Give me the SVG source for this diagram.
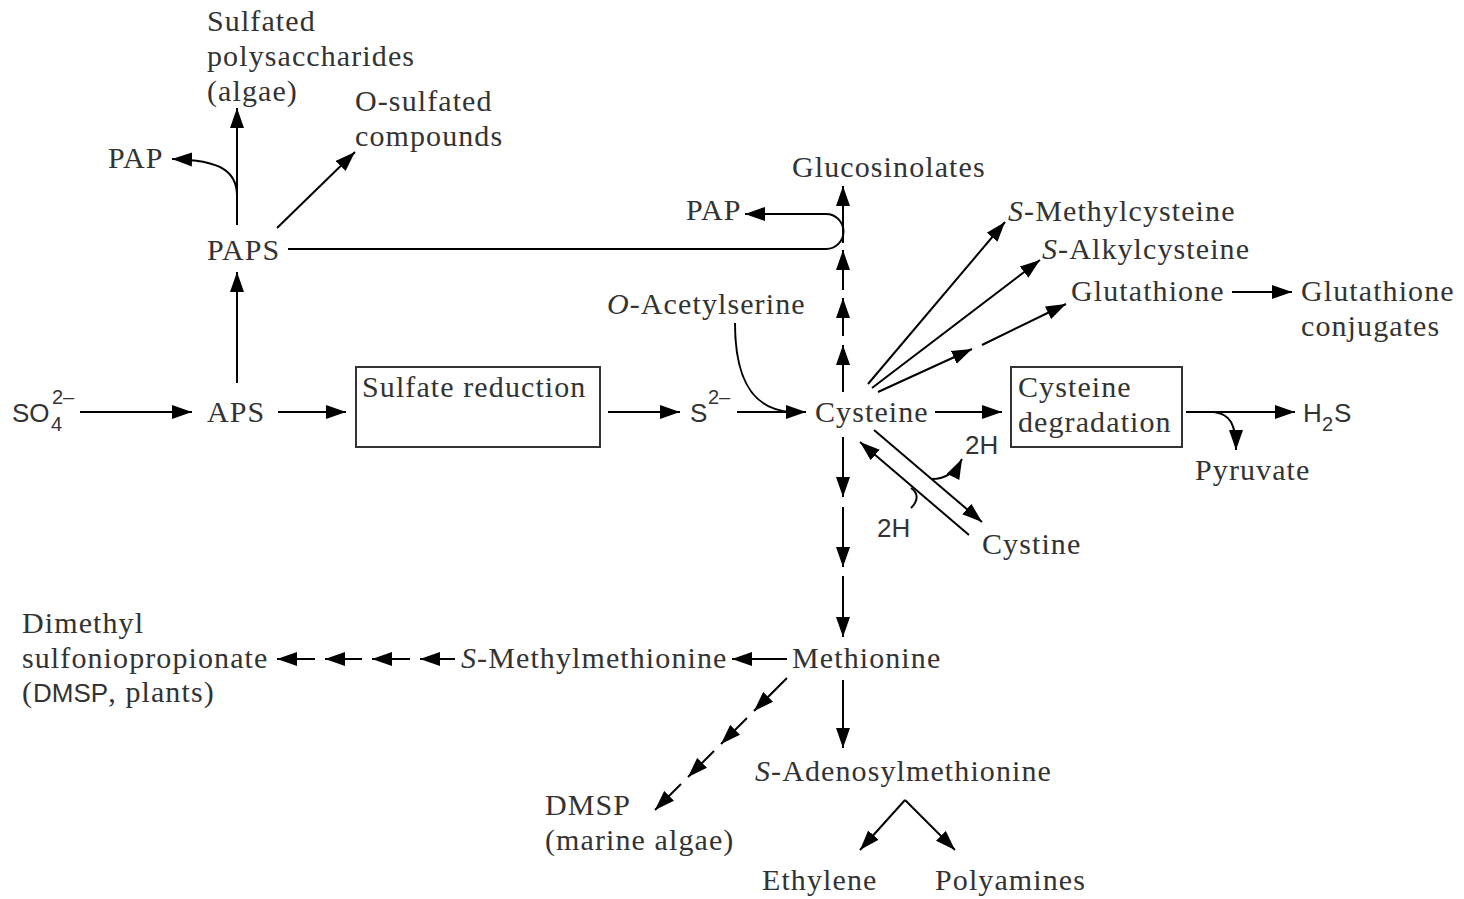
<svg xmlns="http://www.w3.org/2000/svg" width="1464" height="899" viewBox="0 0 1464 899">
<style>
.t{font-family:"Liberation Serif","Times New Roman",serif;font-size:30px;fill:#333;letter-spacing:1.1px}
.s{font-family:"Liberation Sans",Arial,sans-serif;font-size:26px;fill:#333;letter-spacing:0}
.sm{font-size:20px}
.i{font-style:italic}
.ln{fill:none;stroke:#000;stroke-width:2}
.a{marker-end:url(#ah)}
.box{fill:#fff;stroke:#333;stroke-width:2}
</style>
<defs>
<marker id="ah" markerUnits="userSpaceOnUse" markerWidth="21" markerHeight="15" refX="20" refY="7.5" orient="auto">
<path d="M0,0.5 L20,7.5 L0,14.5 z" fill="#000"/>
</marker>
</defs>
<rect width="1464" height="899" fill="#fff"/>

<g id="connectors">
<path class="ln a" d="M80,412 H192"/>
<path class="ln a" d="M278,412 H346"/>
<path class="ln a" d="M608,412 H680"/>
<path class="ln a" d="M737,412 H806"/>
<path class="ln" d="M735,323 C735,372 748,410 792,412"/>
<path class="ln a" d="M237,383 V272"/>
<path class="ln a" d="M237,225 V108"/>
<path class="ln a" d="M237,196 C237,172 222,160 172,159"/>
<path class="ln a" d="M277,228 L355,152"/>
<path class="ln a" d="M288,249 H826 A17.5,17.5 0 0 0 826,214 H745"/>
<path class="ln a" d="M843,392 V345"/>
<path class="ln a" d="M843,336 V298"/>
<path class="ln a" d="M843,290 V250"/>
<path class="ln a" d="M843,243 V186"/>
<path class="ln a" d="M843,437 V497"/>
<path class="ln a" d="M843,507 V567"/>
<path class="ln a" d="M843,576 V637"/>
<path class="ln a" d="M868,384 L1005,222"/>
<path class="ln a" d="M872,388 L1040,260"/>
<path class="ln a" d="M878,392 L972,349"/>
<path class="ln a" d="M982,345 L1066,304"/>
<path class="ln a" d="M1232,292 H1292"/>
<path class="ln a" d="M935,412 H1002"/>
<path class="ln a" d="M1186,412 H1295"/>
<path class="ln a" d="M1214,412 C1230,414 1236,424 1236,450"/>
<path class="ln a" d="M874,430 L982,522"/>
<path class="ln a" d="M969,535 L860,442"/>
<path class="ln a" d="M932,479 Q952,479 962,459"/>
<path class="ln" d="M911,508 C919,500 918,493 911,488"/>
<path class="ln a" d="M787,659 H732"/>
<path class="ln a" d="M455,659 H420"/>
<path class="ln a" d="M410,659 H372"/>
<path class="ln a" d="M362,659 H325"/>
<path class="ln a" d="M315,659 H277"/>
<path class="ln a" d="M787,678 L754,711"/>
<path class="ln a" d="M747,718 L721,744"/>
<path class="ln a" d="M714,751 L688,777"/>
<path class="ln a" d="M681,784 L655,810"/>
<path class="ln a" d="M843,680 V748"/>
<path class="ln a" d="M905,800 L860,850"/>
<path class="ln a" d="M905,800 L955,850"/>
</g>

<g id="sulfated-polysaccharides"><text class="t" x="207" y="31">Sulfated</text><text class="t" x="207" y="66">polysaccharides</text><text class="t" x="207" y="101">(algae)</text></g>
<g id="o-sulfated"><text class="t" x="355" y="111">O-sulfated</text><text class="t" x="355" y="146">compounds</text></g>
<g id="pap1"><text class="t" x="108" y="168">PAP</text></g>
<g id="paps"><text class="t" x="207" y="260">PAPS</text></g>
<g id="glucosinolates"><text class="t" x="792" y="177">Glucosinolates</text></g>
<g id="pap2"><text class="t" x="686" y="220">PAP</text></g>
<g id="s-methylcysteine"><text class="t" x="1008" y="221"><tspan class="i">S</tspan>-Methylcysteine</text></g>
<g id="s-alkylcysteine"><text class="t" x="1042" y="259"><tspan class="i">S</tspan>-Alkylcysteine</text></g>
<g id="glutathione"><text class="t" x="1071" y="301">Glutathione</text></g>
<g id="glutathione-conjugates"><text class="t" x="1301" y="301">Glutathione</text><text class="t" x="1301" y="336">conjugates</text></g>
<g id="o-acetylserine"><text class="t" x="607" y="314"><tspan class="i">O</tspan>-Acetylserine</text></g>
<g id="so4"><text class="s" x="12" y="422">SO<tspan class="sm" x="51" y="431">4</tspan><tspan class="sm" x="52" y="404">2–</tspan></text></g>
<g id="aps"><text class="t" x="207" y="422">APS</text></g>
<g id="sulfate-reduction"><rect class="box" x="356" y="367" width="244" height="80"/><text class="t" x="362" y="397">Sulfate reduction</text></g>
<g id="s2"><text class="s" x="690" y="422">S<tspan class="sm" x="708" y="404">2–</tspan></text></g>
<g id="cysteine"><text class="t" x="815" y="422">Cysteine</text></g>
<g id="cysteine-degradation"><rect class="box" x="1011" y="367" width="171" height="80"/><text class="t" x="1018" y="397">Cysteine</text><text class="t" x="1018" y="432">degradation</text></g>
<g id="h2s"><text class="s" x="1303" y="422">H<tspan class="sm" x="1322" y="431">2</tspan><tspan x="1334" y="422">S</tspan></text></g>
<g id="pyruvate"><text class="t" x="1195" y="480">Pyruvate</text></g>
<g id="h2-a"><text class="s" x="965" y="454">2H</text></g>
<g id="h2-b"><text class="s" x="877" y="537">2H</text></g>
<g id="cystine"><text class="t" x="982" y="554">Cystine</text></g>
<g id="dmsp-plants"><text class="t" x="22" y="633">Dimethyl</text><text class="t" x="22" y="668">sulfoniopropionate</text><text class="t" x="22" y="702">(<tspan class="s">DMSP</tspan>, plants)</text></g>
<g id="s-methylmethionine"><text class="t" x="461" y="668"><tspan class="i">S</tspan>-Methylmethionine</text></g>
<g id="methionine"><text class="t" x="792" y="668">Methionine</text></g>
<g id="sam"><text class="t" x="755" y="781"><tspan class="i">S</tspan>-Adenosylmethionine</text></g>
<g id="dmsp-algae"><text class="t" x="545" y="815">DMSP</text><text class="t" x="545" y="850">(marine algae)</text></g>
<g id="ethylene"><text class="t" x="762" y="890">Ethylene</text></g>
<g id="polyamines"><text class="t" x="935" y="890">Polyamines</text></g>
</svg>
